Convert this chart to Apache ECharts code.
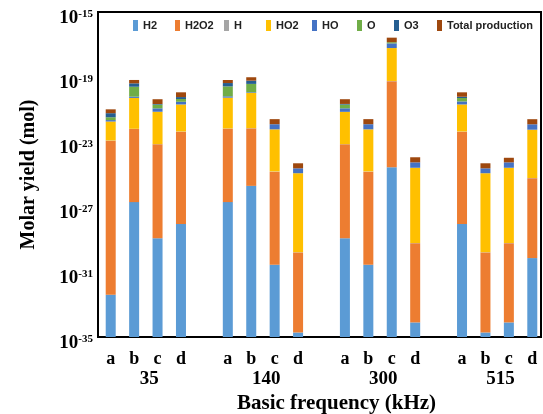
<!DOCTYPE html>
<html><head><meta charset="utf-8">
<script src="https://cdn.jsdelivr.net/npm/echarts@6/dist/echarts.min.js"></script>
<style>html,body{margin:0;padding:0;background:#fff}#c{width:543px;height:414px}</style>
</head><body><div id="c"></div>
<script>
// ---- data ----
const groups = ['35', '140', '300', '515'];
const letters = ['a', 'b', 'c', 'd'];
const seriesNames = ['H2', 'H2O2', 'H', 'HO2', 'HO', 'O', 'O3', 'Total production'];
const colors = ['#5B9BD5', '#ED7D31', '#A5A5A5', '#FFC000', '#4472C4', '#70AD47', '#255E91', '#9E480E'];
const axisMinExp = -35, axisMaxExp = -15, tickStepExp = 4;

// molar yields (mol), order: 35a..d, 140a..d, 300a..d, 515a..d
const H2    = [4.0e-33, 2.0e-27, 1.2e-29, 8.9e-29, 2.0e-27, 2.0e-26, 2.8e-31, 1.9e-35, 1.2e-29, 2.8e-31, 2.8e-25, 7.9e-35, 8.9e-29, 1.9e-35, 7.9e-35, 7.2e-31];
const H2O2  = [1.2e-23, 6.3e-23, 7.2e-24, 4.3e-23, 6.6e-23, 6.9e-23, 1.5e-25, 1.6e-30, 7.2e-24, 1.5e-25, 5.5e-20, 5.9e-30, 4.3e-23, 1.6e-30, 5.9e-30, 5.9e-26];
const H     = [4e-25, 2e-24, 2e-25, 1.3e-24, 2e-24, 2e-24, 5e-27, 5e-32, 2e-25, 5e-27, 2e-21, 2e-31, 1.3e-24, 5e-32, 2e-31, 2e-27];
const HO2   = [1.7e-22, 5.1e-21, 7.2e-22, 2.0e-21, 5.3e-21, 1.05e-20, 6.0e-23, 1.2e-25, 7.1e-22, 6.0e-23, 6.0e-18, 2.6e-25, 2.0e-21, 1.2e-25, 2.6e-25, 5.7e-23];
const HO    = [4.1e-23, 1.0e-21, 4.5e-22, 9.3e-22, 1.1e-21, 1.0e-21, 6.3e-23, 1.2e-25, 4.7e-22, 6.3e-23, 5.7e-18, 3.0e-25, 1.1e-21, 1.2e-25, 3.0e-25, 6.6e-23];
const O     = [1.1e-22, 1.9e-20, 8.2e-22, 1.45e-21, 2.0e-20, 2.6e-20, 0, 0, 8.2e-22, 0, 2.0e-18, 0, 1.95e-21, 0, 0, 0];
const O3    = [2.6e-22, 1.55e-20, 1.9e-22, 1.4e-21, 1.6e-20, 2.2e-20, 2e-24, 0, 1.9e-22, 2e-24, 1e-19, 0, 1.0e-21, 0, 0, 0];
const Total = [4.3e-22, 2.5e-20, 2.1e-21, 5.6e-21, 2.3e-20, 3.7e-20, 1.3e-22, 2.5e-25, 2.1e-21, 1.3e-22, 1.25e-17, 5.9e-25, 5.3e-21, 2.5e-25, 5.1e-25, 1.3e-22];

// ---- layout ----
const legendLeft = [133, 175, 224, 266, 312, 357, 394, 437];

// ---- build ----
const valueSets = [H2, H2O2, H, HO2, HO, O, O3, Total];
const nBars = groups.length * letters.length;
// stacked on a log scale: each segment spans from log10 of the previous cumulative sum to the current one
const segs = valueSets.map(() => []);
for (let j = 0; j < nBars; j++) {
  let cum = 0, prev = 0;
  valueSets.forEach((arr, s) => {
    cum += arr[j];
    const cur = cum > 0 ? Math.max(Math.log10(cum) - axisMinExp, 0) : 0;
    segs[s].push(cur - prev);
    prev = cur;
  });
}
function toSlots(arr, filler) {
  const out = [];
  groups.forEach((g, gi) => {
    letters.forEach((l, li) => out.push(arr[gi * letters.length + li]));
    if (gi < groups.length - 1) out.push(filler);
  });
  return out;
}
const categories = toSlots(groups.flatMap(() => letters), '');
const groupSlots = toSlots(groups.flatMap(g => letters.map((l, li) => li === 1 ? g : '')), '');

const serif = "'Liberation Serif','Times New Roman',serif";
const sans = "'Liberation Sans',Arial,sans-serif";

const chart = echarts.init(document.getElementById('c'), null, {renderer: 'canvas'});
chart.setOption({
  animation: false,
  backgroundColor: '#fff',
  legend: seriesNames.map((name, i) => ({
    data: [name], left: legendLeft[i], top: 20, padding: 0, icon: 'rect', itemWidth: 5, itemHeight: 11,
    textStyle: {fontFamily: sans, fontSize: 11, fontWeight: 'bold', color: '#222'}
  })),
  grid: [
    {left: 99, top: 12, width: 445, height: 325, outerBoundsMode: 'none', containLabel: false},
    {left: 98, top: 12, width: 443, height: 325, outerBoundsMode: 'none', containLabel: false,
     show: true, borderColor: '#000', borderWidth: 2, backgroundColor: 'transparent'}
  ],
  xAxis: [
    {type: 'category', gridIndex: 0, data: categories, position: 'bottom',
     axisLine: {show: false}, axisTick: {show: false},
     axisLabel: {interval: 0, margin: 13, fontFamily: serif, fontWeight: 'bold', fontSize: 18, color: '#000'},
     name: 'Basic frequency (kHz)', nameLocation: 'middle', nameGap: 56,
     nameTextStyle: {fontFamily: serif, fontWeight: 'bold', fontSize: 21, color: '#000', padding: [0, 0, 0, 30]}},
    {type: 'category', gridIndex: 0, data: groupSlots, position: 'bottom',
     axisLine: {show: false}, axisTick: {show: false},
     axisLabel: {interval: 0, margin: 33, fontFamily: serif, fontWeight: 'bold', fontSize: 19, color: '#000', padding: [0, 0, 0, 30]}},
    {type: 'value', gridIndex: 1, show: false}
  ],
  yAxis: [
    {type: 'value', gridIndex: 0, min: 0, max: axisMaxExp - axisMinExp, interval: tickStepExp,
     axisLine: {show: false}, axisTick: {show: false}, splitLine: {show: false},
     axisLabel: {margin: 6, padding: [12, 0, 0, 0],
       formatter: v => '{b|10}{s|' + (v + axisMinExp) + '}',
       rich: {
         b: {fontFamily: serif, fontWeight: 'bold', fontSize: 19, color: '#000'},
         s: {fontFamily: serif, fontWeight: 'bold', fontSize: 11, color: '#000', verticalAlign: 'top'}
       }},
     name: 'Molar yield (mol)', nameLocation: 'middle', nameGap: 60,
     nameTextStyle: {fontFamily: serif, fontWeight: 'bold', fontSize: 20, color: '#000'}},
    {type: 'value', gridIndex: 1, show: false}
  ],
  series: seriesNames.map((name, s) => ({
    name, type: 'bar', stack: 'yield', xAxisIndex: 0, yAxisIndex: 0,
    barWidth: 10, data: toSlots(segs[s], null), itemStyle: {color: colors[s]}
  }))
});
</script></body></html>
